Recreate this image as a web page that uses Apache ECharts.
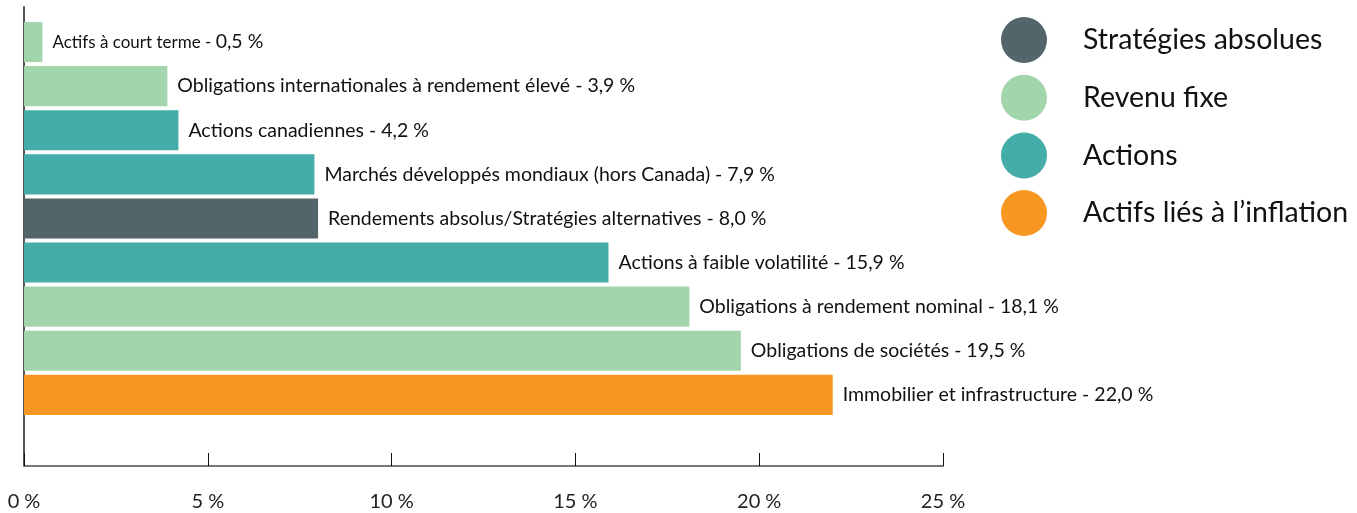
<!DOCTYPE html>
<html>
<head>
<meta charset="utf-8">
<script src="https://cdn.jsdelivr.net/npm/echarts@6/dist/echarts.min.js"></script>
<style>
html,body{margin:0;padding:0;background:#fff;}
#chart{width:1357px;height:513px;}
</style>
</head>
<body>
<div id="chart"></div>
<script>
// Data
var categories = [
  'Actifs à court terme',
  'Obligations internationales à rendement élevé',
  'Actions canadiennes',
  'Marchés développés mondiaux (hors Canada)',
  'Rendements absolus/Stratégies alternatives',
  'Actions à faible volatilité',
  'Obligations à rendement nominal',
  'Obligations de sociétés',
  'Immobilier et infrastructure'
];
var values = [0.5, 3.9, 4.2, 7.9, 8.0, 15.9, 18.1, 19.5, 22.0];
var groups = ['Revenu fixe', 'Revenu fixe', 'Actions', 'Actions', 'Stratégies absolues', 'Actions', 'Revenu fixe', 'Revenu fixe', 'Actifs liés à l’inflation'];
var groupNames = ['Stratégies absolues', 'Revenu fixe', 'Actions', 'Actifs liés à l’inflation'];
var groupColors = ['#536568', '#a3d5ac', '#44aca9', '#f79621'];
var xTicks = [0, 5, 10, 15, 20, 25];

var FONT = 'Lato';
var yCats = categories.concat(['']);

function fmt(v) { return v.toFixed(1).replace('.', ',') + ' %'; }

var series = groupNames.map(function (g, gi) {
  return {
    name: g,
    type: 'bar',
    stack: 'all',
    xAxisIndex: 0,
    yAxisIndex: 0,
    barCategoryGap: '9%',
    itemStyle: { color: groupColors[gi] },
    data: values.map(function (v, i) { return groups[i] === g ? v : '-'; }),
    label: {
      show: true,
      position: 'right',
      distance: 10,
      color: '#111',
      fontFamily: FONT,
      fontSize: 19.5,
      formatter: function (p) {
        if (p.dataIndex === 0) {
          return '{s|' + categories[p.dataIndex] + ' - }{b|' + fmt(p.value) + '}';
        }
        return categories[p.dataIndex] + ' - ' + fmt(p.value);
      },
      rich: {
        s: { fontFamily: FONT, fontSize: 17, color: '#111' },
        b: { fontFamily: FONT, fontSize: 19.5, color: '#111' }
      }
    },
    emphasis: { disabled: true }
  };
});

var chart = echarts.init(document.getElementById('chart'), null, { renderer: 'canvas' });
chart.setOption({
  animation: false,
  backgroundColor: '#fff',
  legend: {
    orient: 'vertical',
    left: 996,
    top: 12,
    icon: 'circle',
    itemWidth: 46,
    itemHeight: 46,
    itemGap: 11.7,
    data: groupNames,
    selectedMode: false,
    textStyle: {
      fontFamily: FONT,
      fontSize: 28.5,
      color: '#111',
      padding: [0, 0, 0, 31]
    }
  },
  grid: [
    { left: 24, right: 414, top: 20, height: 441, containLabel: false },
    { left: 24, right: 414, top: 7, height: 459, containLabel: false }
  ],
  xAxis: [
    { gridIndex: 0, type: 'value', min: 0, max: 25, show: false },
    {
      gridIndex: 1, type: 'value', min: xTicks[0], max: xTicks[xTicks.length - 1], interval: 5,
      axisLine: { show: true, lineStyle: { color: '#777', width: 2 } },
      axisTick: { show: true, inside: true, length: 13, lineStyle: { color: '#111', width: 1 } },
      splitLine: { show: false },
      axisLabel: {
        show: true, margin: 26, color: '#222', fontFamily: FONT, fontSize: 20,
        formatter: function (v) { return v + ' %'; }
      }
    }
  ],
  yAxis: [
    {
      gridIndex: 0, type: 'category', inverse: true, data: yCats,
      axisLine: { show: false }, axisTick: { show: false }, axisLabel: { show: false }, splitLine: { show: false }
    },
    {
      gridIndex: 1, type: 'value', min: 0, max: 1,
      axisLine: { show: true, lineStyle: { color: '#555', width: 2 } },
      axisTick: { show: false }, axisLabel: { show: false }, splitLine: { show: false }
    }
  ],
  series: series
});
</script>
</body>
</html>
